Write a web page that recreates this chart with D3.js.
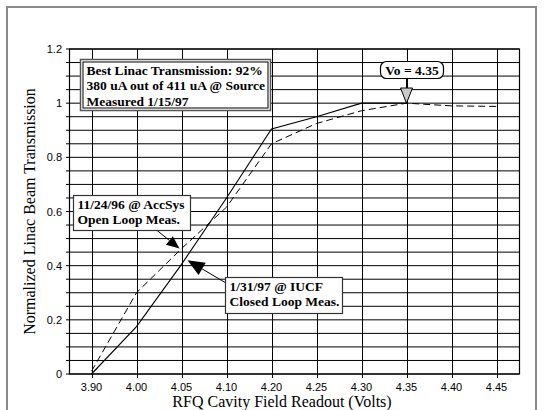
<!DOCTYPE html>
<html>
<head>
<meta charset="utf-8">
<script src="https://cdn.jsdelivr.net/npm/d3@7/dist/d3.min.js"></script>
<style>
  body { margin: 0; background: #fff; }
  svg { display: block; }
  .tick-label { font-family: "Liberation Sans", Arial, sans-serif; font-size: 11px; fill: #000; }
  .title { font-family: "Liberation Serif", "Times New Roman", serif; font-size: 16px; fill: #000; }
  .note { font-family: "Liberation Serif", "Times New Roman", serif; font-size: 13.5px; font-weight: bold; fill: #000; }
</style>
</head>
<body>
<div id="chart"></div>
<script>
// RFQ field readout categories (evenly spaced on the plot)
var categories = ["3.90", "4.00", "4.05", "4.10", "4.20", "4.25", "4.30", "4.35", "4.40", "4.45"];
// 1/31/97 @ IUCF, closed loop (solid)
var closedLoop = [0.0, 0.175, 0.405, 0.65, 0.905, 0.95, 1.0, 1.0, null, null];
// 11/24/96 @ AccSys, open loop (dashed)
var openLoop = [0.01, 0.30, 0.463, 0.616, 0.85, 0.925, 0.972, 1.0, 0.99, 0.988];
var yTicks = [0, 0.2, 0.4, 0.6, 0.8, 1, 1.2];
var yGrid = d3.range(0, 25).map(function(i) { return i * 0.05; });

var width = 544, height = 410;
var pLeft = 69, pRight = 519, pTop = 49, pBottom = 374;

var svg = d3.select("#chart").append("svg")
    .attr("width", width)
    .attr("height", height);

// outer gray frame
svg.append("rect")
    .attr("x", 7).attr("y", 7)
    .attr("width", 529).attr("height", 430)
    .attr("fill", "none")
    .attr("stroke", "#8a8a8a")
    .attr("stroke-width", 2);

var x = d3.scalePoint().domain(categories).range([pLeft, pRight]).padding(0.5);
var y = d3.scaleLinear().domain([0, 1.2]).range([pBottom, pTop]);

// horizontal grid
svg.append("g").selectAll("line")
    .data(yGrid)
  .enter().append("line")
    .attr("x1", pLeft - 3).attr("x2", pRight)
    .attr("y1", function(d) { return y(d); })
    .attr("y2", function(d) { return y(d); })
    .attr("stroke", "#000")
    .attr("stroke-width", 1);

// vertical grid + ticks
svg.append("g").selectAll("line")
    .data(categories)
  .enter().append("line")
    .attr("x1", function(d) { return Math.round(x(d)) + 0.5; })
    .attr("x2", function(d) { return Math.round(x(d)) + 0.5; })
    .attr("y1", pTop)
    .attr("y2", pBottom + 4)
    .attr("stroke", "#000")
    .attr("stroke-width", 1);

// plot border
svg.append("rect")
    .attr("x", pLeft + 0.5).attr("y", pTop)
    .attr("width", pRight - pLeft).attr("height", pBottom - pTop)
    .attr("fill", "none")
    .attr("stroke", "#000")
    .attr("stroke-width", 1.2);

// tick labels
svg.append("g").selectAll("text")
    .data(yTicks)
  .enter().append("text")
    .attr("class", "tick-label")
    .attr("x", pLeft - 7)
    .attr("y", function(d) { return y(d) + 4; })
    .attr("text-anchor", "end")
    .text(function(d) { return d3.format("~g")(d); });

svg.append("g").selectAll("text")
    .data(categories)
  .enter().append("text")
    .attr("class", "tick-label")
    .attr("x", function(d) { return x(d); })
    .attr("y", pBottom + 17)
    .attr("text-anchor", "middle")
    .text(function(d) { return d; });

// axis titles
svg.append("text")
    .attr("class", "title")
    .attr("x", (pLeft + pRight) / 2 - 12)
    .attr("y", 407)
    .attr("text-anchor", "middle")
    .text("RFQ Cavity Field Readout (Volts)");

svg.append("text")
    .attr("class", "title")
    .attr("transform", "translate(35," + ((pTop + pBottom) / 2) + ") rotate(-90)")
    .attr("text-anchor", "middle")
    .text("Normalized Linac Beam Transmission");

// data lines
var line = d3.line()
    .defined(function(d) { return d[1] != null; })
    .x(function(d) { return x(d[0]); })
    .y(function(d) { return y(d[1]); });

svg.append("path")
    .datum(categories.map(function(c, i) { return [c, openLoop[i]]; }))
    .attr("d", line)
    .attr("fill", "none")
    .attr("stroke", "#000")
    .attr("stroke-width", 1)
    .attr("stroke-dasharray", "7,4");

svg.append("path")
    .datum(categories.map(function(c, i) { return [c, closedLoop[i]]; }))
    .attr("d", line)
    .attr("fill", "none")
    .attr("stroke", "#000")
    .attr("stroke-width", 1.1);

// annotations
function arrow(x1, y1, x2, y2, len, wid) {
  var dx = x2 - x1, dy = y2 - y1, d = Math.sqrt(dx * dx + dy * dy);
  var ux = dx / d, uy = dy / d;
  var bx = x2 - ux * len, by = y2 - uy * len;
  svg.append("line")
      .attr("x1", x1).attr("y1", y1).attr("x2", bx).attr("y2", by)
      .attr("stroke", "#000").attr("stroke-width", 1);
  svg.append("path")
      .attr("d", "M" + x2 + "," + y2 +
                 "L" + (bx - uy * wid / 2) + "," + (by + ux * wid / 2) +
                 "L" + (bx + uy * wid / 2) + "," + (by - ux * wid / 2) + "Z")
      .attr("fill", "#000");
}

function textBox(x0, y0, w, h, lines, lh, dbl) {
  var g = svg.append("g");
  if (dbl) {
    g.append("rect").attr("x", x0).attr("y", y0).attr("width", w).attr("height", h)
        .attr("fill", "#fff").attr("stroke", "#555").attr("stroke-width", 1.5);
    g.append("rect").attr("x", x0 + 2.5).attr("y", y0 + 2.5).attr("width", w - 5).attr("height", h - 5)
        .attr("fill", "#fff").attr("stroke", "#000").attr("stroke-width", 1);
  } else {
    g.append("rect").attr("x", x0).attr("y", y0).attr("width", w).attr("height", h)
        .attr("fill", "#fff").attr("stroke", "#333").attr("stroke-width", 1.2);
  }
  lines.forEach(function(t, i) {
    g.append("text").attr("class", "note")
        .attr("x", x0 + (dbl ? 6 : 4))
        .attr("y", y0 + (dbl ? 15 : 13) + i * lh)
        .text(t);
  });
}

textBox(80.5, 59.5, 190, 51,
  ["Best Linac Transmission: 92%", "380 uA out of 411 uA @ Source", "Measured 1/15/97"], 15.5, true);

// Vo marker
var vx = x("4.35"), vy = y(1.0);
svg.append("line").attr("x1", vx).attr("x2", vx).attr("y1", 78).attr("y2", 88)
    .attr("stroke", "#000");
svg.append("path")
    .attr("d", "M" + vx + "," + vy + "L" + (vx - 6) + ",88L" + (vx + 6) + ",88Z")
    .attr("fill", "#c8c8c8").attr("stroke", "#000").attr("stroke-width", 1);
svg.append("rect").attr("x", 380.5).attr("y", 61.5).attr("width", 63).attr("height", 17)
    .attr("rx", 6).attr("fill", "#fff").attr("stroke", "#000").attr("stroke-width", 1.2);
svg.append("text").attr("class", "note").attr("x", 412).attr("y", 75)
    .attr("text-anchor", "middle").text("Vo = 4.35");

// open loop callout
arrow(156.5, 230, x("4.05") - 2, y(openLoop[2]), 13, 11);
textBox(73.5, 195.5, 117, 35, ["11/24/96 @ AccSys", "Open Loop Meas."], 15, false);

// closed loop callout
arrow(226, 283, x("4.05") + 6, y(0.42), 17, 14);
textBox(225.5, 277.5, 117, 36, ["1/31/97 @ IUCF", "Closed Loop Meas."], 15.5, false);
</script>
</body>
</html>
